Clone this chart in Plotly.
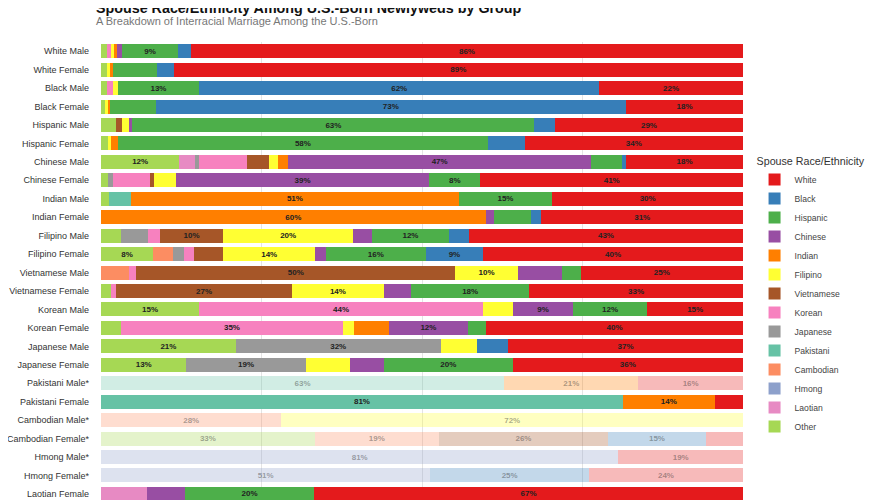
"""
Spouse race/ethnicity among U.S.-born newlyweds, stacked horizontal bars.
"""
import plotly.graph_objects as go

groups = [
    "White Male", "White Female", "Black Male", "Black Female",
    "Hispanic Male", "Hispanic Female", "Chinese Male", "Chinese Female",
    "Indian Male", "Indian Female", "Filipino Male", "Filipino Female",
    "Vietnamese Male", "Vietnamese Female", "Korean Male", "Korean Female",
    "Japanese Male", "Japanese Female", "Pakistani Male*", "Pakistani Female",
    "Cambodian Male*", "Cambodian Female*", "Hmong Male*", "Hmong Female*",
    "Laotian Female",
]

# percent of newlyweds by spouse group (one value per row above)
white = [86.0, 88.7, 22.4, 18.2, 29.3, 34.0, 18.2, 40.9, 29.7, 31.4, 42.7, 40.5, 25.3,
         33.3, 14.9, 40.0, 36.6, 35.9, 16.3, 4.4, 0, 5.8, 19.4, 24.0, 66.8]
black = [2.0, 2.6, 62.3, 73.3, 3.2, 5.7, 0.6, 0, 0, 1.6, 3.1, 8.9, 0,
         0, 0, 0, 4.8, 0, 0, 0, 0, 15.2, 0, 24.7, 0]
hispanic = [8.7, 6.8, 12.7, 7.1, 62.6, 57.7, 4.9, 8.0, 14.6, 5.8, 12.0, 15.6, 2.9,
            18.4, 11.6, 2.8, 0, 20.0, 0, 0, 0, 0, 0, 0, 20.1]
chinese = [0.8, 0, 0, 0, 0.6, 0, 47.1, 39.4, 0, 1.3, 2.9, 1.6, 6.9,
           4.2, 9.3, 12.4, 0, 5.3, 0, 0, 0, 0, 0, 0, 6.0]
indian = [0.4, 0.5, 0, 0.3, 0, 1.0, 1.7, 0, 51.0, 59.9, 0, 0, 0,
          0, 0, 5.4, 0, 0, 20.9, 14.3, 0, 0, 0, 0, 0]
filipino = [0.6, 0.4, 0.8, 0.5, 1.1, 0.5, 1.4, 3.4, 0, 0, 20.3, 14.4, 9.7,
            14.4, 4.7, 1.7, 5.7, 6.9, 0, 0, 71.9, 0, 0, 0, 0]
vietnamese = [0, 0, 0, 0, 0.9, 0, 3.4, 0.6, 0, 0, 9.8, 4.5, 49.7,
              27.3, 0, 0, 0, 0, 0, 0, 0, 26.4, 0, 0, 0]
korean = [0.5, 0, 0.8, 0, 0, 0, 7.4, 5.8, 0, 0, 1.9, 1.6, 1.2,
          0.9, 44.2, 34.6, 0, 0, 0, 0, 0, 0, 0, 0, 0]
japanese = [0, 0, 0, 0, 0, 0, 0.7, 0.8, 0, 0, 4.2, 1.7, 0,
            0, 0, 0, 31.9, 18.6, 0, 0, 0, 0, 0, 0, 0]
pakistani = [0, 0, 0, 0, 0, 0, 0, 0, 3.4, 0, 0, 0, 0,
             0, 0, 0, 0, 0, 62.8, 81.3, 0, 0, 0, 0, 0]
cambodian = [0, 0, 0, 0, 0, 0, 0, 0, 0, 0, 0, 3.1, 4.3,
             0, 0, 0, 0, 0, 0, 0, 28.1, 19.3, 0, 0, 0]
hmong = [0, 0, 0, 0, 0, 0, 0, 0, 0, 0, 0, 0, 0,
         0, 0, 0, 0, 0, 0, 0, 0, 0, 80.6, 51.3, 0]
laotian = [0, 0, 0, 0, 0, 0, 2.4, 0, 0, 0, 0, 0, 0,
           0, 0, 0, 0, 0, 0, 0, 0, 0, 0, 0, 7.1]
other = [1.0, 1.0, 1.0, 0.6, 2.3, 1.1, 12.2, 1.1, 1.3, 0, 3.1, 8.1, 0,
         1.5, 15.3, 3.1, 21.0, 13.3, 0, 0, 0, 33.3, 0, 0, 0]

# small samples are shown faded
small_sample = [g.endswith("*") for g in groups]

# legend order (top to bottom); bars stack in the reverse order
series = [
    ("White", white, "#e41a1c"),
    ("Black", black, "#377eb8"),
    ("Hispanic", hispanic, "#4daf4a"),
    ("Chinese", chinese, "#984ea3"),
    ("Indian", indian, "#ff7f00"),
    ("Filipino", filipino, "#ffff33"),
    ("Vietnamese", vietnamese, "#a65628"),
    ("Korean", korean, "#f781bf"),
    ("Japanese", japanese, "#999999"),
    ("Pakistani", pakistani, "#66c2a5"),
    ("Cambodian", cambodian, "#fc8d62"),
    ("Hmong", hmong, "#8da0cb"),
    ("Laotian", laotian, "#e78ac3"),
    ("Other", other, "#a6d854"),
]

FONT = "Liberation Sans, Arial, Helvetica, sans-serif"

fig = go.Figure()
for name, vals, color in reversed(series):
    labels = [f"<b>{v:.0f}%</b>" if v >= 7.5 else "" for v in vals]
    fig.add_trace(go.Bar(
        y=groups, x=vals, name=name, orientation="h",
        marker=dict(color=color, line=dict(width=0),
                    opacity=[0.3 if s else 1.0 for s in small_sample]),
        text=labels, textposition="inside", insidetextanchor="middle",
        textangle=0, constraintext="none",
        textfont=dict(family=FONT, size=8,
                      color=["rgba(40,40,40,0.4)" if s else "#222" for s in small_sample]),
        hovertemplate="%{y}<br>" + name + ": %{x:.1f}%<extra></extra>",
    ))

# the page body adds an 8px offset, so the figure sits slightly up-left
fig.update_layout(
    width=893, height=492,
    barmode="stack", bargap=0.24,
    paper_bgcolor="white", plot_bgcolor="white",
    margin=dict(l=93, r=158, t=34, b=0),
    font=dict(family=FONT, color="#333"),
    legend=dict(
        title=dict(text="Spouse Race/Ethnicity", font=dict(size=10.7, color="#333")),
        traceorder="reversed",
        font=dict(size=8.6, color="#444"),
        x=1.018, xanchor="left", y=0.445, yanchor="middle",
        itemclick=False, itemdoubleclick=False,
    ),
    annotations=[
        dict(text="<b>Spouse Race/Ethnicity Among U.S.-Born Newlyweds by Group</b>",
             xref="paper", yref="paper", x=-0.0116, y=1.075,
             xanchor="left", yanchor="middle", showarrow=False,
             font=dict(size=14.3, color="#111")),
        dict(text="A Breakdown of Interracial Marriage Among the U.S.-Born",
             xref="paper", yref="paper", x=-0.0116, y=1.045,
             xanchor="left", yanchor="middle", showarrow=False,
             font=dict(size=11, color="#777")),
    ],
)

fig.update_xaxes(range=[0, 100], showgrid=True, dtick=25, gridcolor="#e4e4e4",
                 gridwidth=1, zeroline=False, showticklabels=False, showline=False)
fig.update_yaxes(type="category", range=[24.33, -0.5], showgrid=False,
                 ticklabelstandoff=11, tickfont=dict(size=9, color="#333"),
                 showline=False)

fig.write_html("out.html")
